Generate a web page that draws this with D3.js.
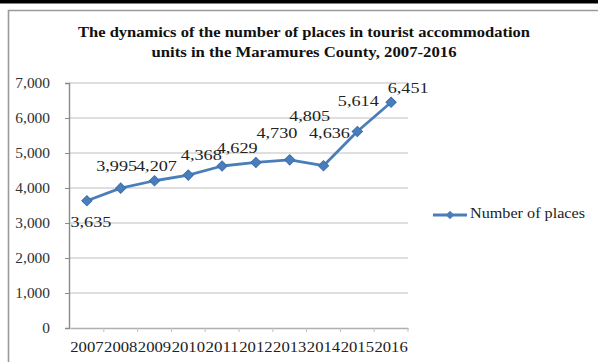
<!DOCTYPE html>
<html>
<head>
<meta charset="utf-8">
<script src="https://cdn.jsdelivr.net/npm/d3@7"></script>
<style>
  html, body { margin: 0; padding: 0; background: #fff; }
  svg { display: block; }
  text { font-family: "Liberation Serif", "Times New Roman", serif; }
</style>
</head>
<body>
<svg id="chart" width="598" height="362"></svg>
<script>
// Number of places in tourist accommodation units, Maramures County
const years = ["2007", "2008", "2009", "2010", "2011", "2012", "2013", "2014", "2015", "2016"];
const places = [3635, 3995, 4207, 4368, 4629, 4730, 4805, 4636, 5614, 6451];
const yTicks = [0, 1000, 2000, 3000, 4000, 5000, 6000, 7000];
const titleLines = [
  "The dynamics of the number of places in tourist accommodation",
  "units in the Maramures County, 2007-2016"
];
const seriesName = "Number of places";

// Label placement around each point (layout only)
const labelOffsets = [
  [4, 23], [-4, -20], [2, -13], [13, -18], [15, -16],
  [21, -28], [20, -42], [6, -31], [1, -29], [17, -12]
];

const svg = d3.select("#chart");
const blue = "#4a7ebb";
const fontStack = "'Liberation Serif', 'Times New Roman', serif";

// widen glyphs horizontally by a factor (wide serif look)
function stretch(sel, factor) {
  sel.each(function () {
    const len = this.getComputedTextLength();
    d3.select(this).attr("textLength", len * factor).attr("lengthAdjust", "spacingAndGlyphs");
  });
}

// top dark stripe and chart frame
svg.append("rect").attr("x", 0).attr("y", 0).attr("width", 598).attr("height", 3.5).attr("fill", "#000");
svg.append("path")
  .attr("d", "M598,10.5 H8.5 V362")
  .attr("fill", "none").attr("stroke", "#9a9a9a").attr("stroke-width", 1.6);

// title
const titleWidths = [452, 305];
svg.append("g").selectAll("text").data(titleLines).join("text")
  .attr("x", 304).attr("y", (d, i) => 37 + i * 20)
  .attr("text-anchor", "middle")
  .attr("font-size", 14).attr("font-weight", "bold").attr("fill", "#111")
  .attr("textLength", (d, i) => titleWidths[i]).attr("lengthAdjust", "spacingAndGlyphs")
  .text(d => d);

const x = d3.scaleBand().domain(years).range([70, 408]).padding(0);
const y = d3.scaleLinear().domain([0, 7000]).range([328, 83]);

// gridlines
svg.append("g").selectAll("line").data(yTicks.filter(d => d > 0)).join("line")
  .attr("x1", 69).attr("x2", 408)
  .attr("y1", d => y(d)).attr("y2", d => y(d))
  .attr("stroke", "#d4d4d4").attr("stroke-width", 1.5);

// y axis
const yAxis = svg.append("g").attr("transform", "translate(69,0)")
  .call(d3.axisLeft(y).tickValues(yTicks).tickFormat(d3.format(",")).tickSize(4).tickPadding(15));
yAxis.select(".domain").attr("stroke", "#8a8a8a").attr("stroke-width", 1.4);
yAxis.selectAll(".tick line").attr("stroke", "#8a8a8a");
yAxis.selectAll(".tick text").attr("font-size", 14).attr("fill", "#333")
  .attr("font-family", fontStack).call(stretch, 1.1);

// x axis
const xAxis = svg.append("g").attr("transform", "translate(0,328)")
  .call(d3.axisBottom(x).tickSize(0).tickPadding(14));
xAxis.select(".domain").attr("stroke", "#b0b0b0").attr("stroke-width", 1.4);
xAxis.selectAll(".tick text").attr("font-size", 14).attr("fill", "#222")
  .attr("font-family", fontStack)
  .attr("textLength", x.bandwidth() - 0.5).attr("lengthAdjust", "spacingAndGlyphs");
// tick marks between categories
svg.append("g").selectAll("line").data(years.slice(1).concat(["end"])).join("line")
  .attr("x1", d => d === "end" ? x.range()[1] : x(d))
  .attr("x2", d => d === "end" ? x.range()[1] : x(d))
  .attr("y1", 328).attr("y2", 332)
  .attr("stroke", "#c0c0c0").attr("stroke-width", 1);

// series
const cx = d => x(d) + x.bandwidth() / 2;
const line = d3.line().x((d, i) => cx(years[i])).y(d => y(d));
svg.append("path").datum(places)
  .attr("d", line).attr("fill", "none")
  .attr("stroke", blue).attr("stroke-width", 2.8).attr("stroke-linejoin", "round");

const diamond = d3.symbol().type(d3.symbolSquare).size(52);
svg.append("g").selectAll("path").data(places).join("path")
  .attr("d", diamond)
  .attr("transform", (d, i) => `translate(${cx(years[i])},${y(d)}) rotate(45)`)
  .attr("fill", blue).attr("stroke", "#3d6fae").attr("stroke-width", 1);

// data labels
svg.append("g").selectAll("text").data(places).join("text")
  .attr("x", (d, i) => cx(years[i]) + labelOffsets[i][0])
  .attr("y", (d, i) => y(d) + labelOffsets[i][1])
  .attr("text-anchor", "middle").attr("dominant-baseline", "middle")
  .attr("font-size", 14).attr("fill", "#222")
  .text(d => d3.format(",")(d))
  .call(stretch, 1.3);

// legend
const lg = svg.append("g").attr("transform", "translate(433,215)");
lg.append("line").attr("x1", 0).attr("x2", 34).attr("y1", 0).attr("y2", 0)
  .attr("stroke", blue).attr("stroke-width", 2.8);
lg.append("path").attr("d", d3.symbol().type(d3.symbolSquare).size(36)())
  .attr("transform", "translate(17,0) rotate(45)").attr("fill", blue);
lg.append("text").attr("x", 37).attr("y", 0).attr("dominant-baseline", "middle")
  .attr("font-size", 14).attr("fill", "#222")
  .attr("textLength", 115).attr("lengthAdjust", "spacingAndGlyphs")
  .text(seriesName);
</script>
</body>
</html>
